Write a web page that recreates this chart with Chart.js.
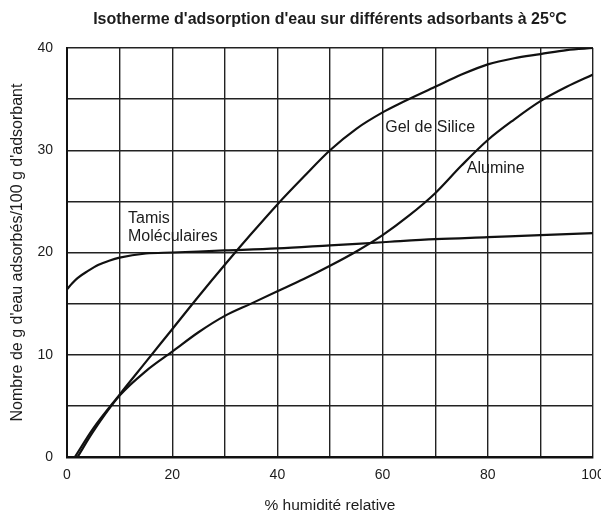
<!DOCTYPE html>
<html>
<head>
<meta charset="utf-8">
<script src="https://cdn.jsdelivr.net/npm/chart.js@4"></script>
<style>
html,body{margin:0;padding:0;background:#fff;}
#wrap{width:601px;height:513px;}
</style>
</head>
<body>
<div id="wrap"><canvas id="c" width="601" height="513"></canvas></div>
<script>
const xGel = [1.5, 5, 10, 15, 20, 25, 30, 35, 40, 45, 50, 55, 60, 63, 70, 75, 80, 85, 90, 95, 100];
const yGel = [0, 2.8, 6.1, 9.3, 12.5, 15.7, 18.8, 21.8, 24.7, 27.4, 30.0, 32.1, 33.7, 34.5, 36.2, 37.4, 38.4, 39.0, 39.4, 39.8, 40.0];

const xAlu = [2, 5, 10, 15, 20, 25, 30, 35, 40, 45, 50, 55, 60, 65, 70, 75, 80, 85, 90, 95, 100];
const yAlu = [0, 2.5, 6.0, 8.4, 10.3, 12.2, 13.8, 15.0, 16.2, 17.4, 18.7, 20.1, 21.7, 23.6, 25.8, 28.5, 31.0, 33.0, 34.8, 36.2, 37.4];

const xTam = [0, 1, 2, 4, 6, 8, 10, 15, 20, 30, 40, 50, 60, 70, 80, 90, 100];
const yTam = [16.4, 17.0, 17.5, 18.2, 18.8, 19.2, 19.5, 19.9, 20.0, 20.2, 20.4, 20.7, 21.0, 21.3, 21.5, 21.7, 21.9];

const chartTitle = "Isotherme d'adsorption d'eau sur différents adsorbants à 25°C";
const yTitle = "Nombre de g d'eau adsorbés/100 g d'adsorbant";
const xTitle = "% humidité relative";

const labels = [
  {text: "Gel de Silice", x: 60.5, y: 32.2},
  {text: "Alumine", x: 76.0, y: 28.2},
  {text: "Tamis", x: 11.6, y: 23.3},
  {text: "Moléculaires", x: 11.6, y: 21.6}
];

function pts(xs, ys){ return xs.map((x,i)=>({x:x, y:ys[i]})); }

const ink = '#1c1c1c';
const FONT = "'Liberation Sans', Arial, Helvetica, sans-serif";

const labelPlugin = {
  id: 'curveLabels',
  afterDatasetsDraw(chart){
    const {ctx, scales} = chart;
    ctx.save();
    ctx.fillStyle = ink;
    ctx.font = "16px " + FONT;
    ctx.textAlign = 'left';
    ctx.textBaseline = 'middle';
    labels.forEach(l => {
      ctx.fillText(l.text, scales.x.getPixelForValue(l.x), scales.y.getPixelForValue(l.y));
    });
    ctx.restore();
  }
};

const lineStyle = {borderColor: '#111', borderWidth: 2.2, pointRadius: 0, fill: false, cubicInterpolationMode: 'monotone', showLine: true};

new Chart(document.getElementById('c'), {
  type: 'scatter',
  data: {
    datasets: [
      Object.assign({label: 'Gel de Silice', data: pts(xGel, yGel)}, lineStyle),
      Object.assign({label: 'Alumine', data: pts(xAlu, yAlu)}, lineStyle),
      Object.assign({label: 'Tamis Moléculaires', data: pts(xTam, yTam)}, lineStyle)
    ]
  },
  options: {
    responsive: false,
    animation: false,
    devicePixelRatio: 1,
    layout: {padding: {top: 0, right: 8, bottom: 0, left: 0}},
    plugins: {
      legend: {display: false},
      tooltip: {enabled: false},
      title: {
        display: true,
        text: chartTitle,
        fullSize: false,
        color: ink,
        font: {family: FONT, size: 16, weight: 'bold'},
        padding: {top: 10.4, bottom: 18.4}
      }
    },
    scales: {
      x: {
        type: 'linear',
        min: 0, max: 100,
        ticks: {
          stepSize: 10,
          color: ink,
          font: {family: FONT, size: 14},
          padding: 10,
          maxRotation: 0,
          callback: v => (v % 20 === 0 ? String(v) : '')
        },
        grid: {color: '#222', lineWidth: 1.4, drawTicks: false},
        border: {color: '#111', width: 2.6},
        title: {display: true, text: xTitle, color: ink, font: {family: FONT, size: 15.5}, padding: {top: 0, bottom: -2}},
        afterFit: s => { s.height = 56; s.paddingRight = 0; s.paddingLeft = 0; }
      },
      y: {
        type: 'linear',
        min: 0, max: 40,
        ticks: {
          stepSize: 5,
          color: ink,
          font: {family: FONT, size: 14},
          padding: 14,
          callback: v => (v % 10 === 0 ? String(v) : '')
        },
        grid: {color: '#222', lineWidth: 1.4, drawTicks: false},
        border: {color: '#111', width: 2},
        title: {display: true, text: yTitle, color: ink, font: {family: FONT, size: 16}, padding: {top: 8, bottom: 0}},
        afterFit: s => { s.width = 67; s.paddingTop = 0; s.paddingBottom = 0; }
      }
    }
  },
  plugins: [labelPlugin]
});
</script>
</body>
</html>
